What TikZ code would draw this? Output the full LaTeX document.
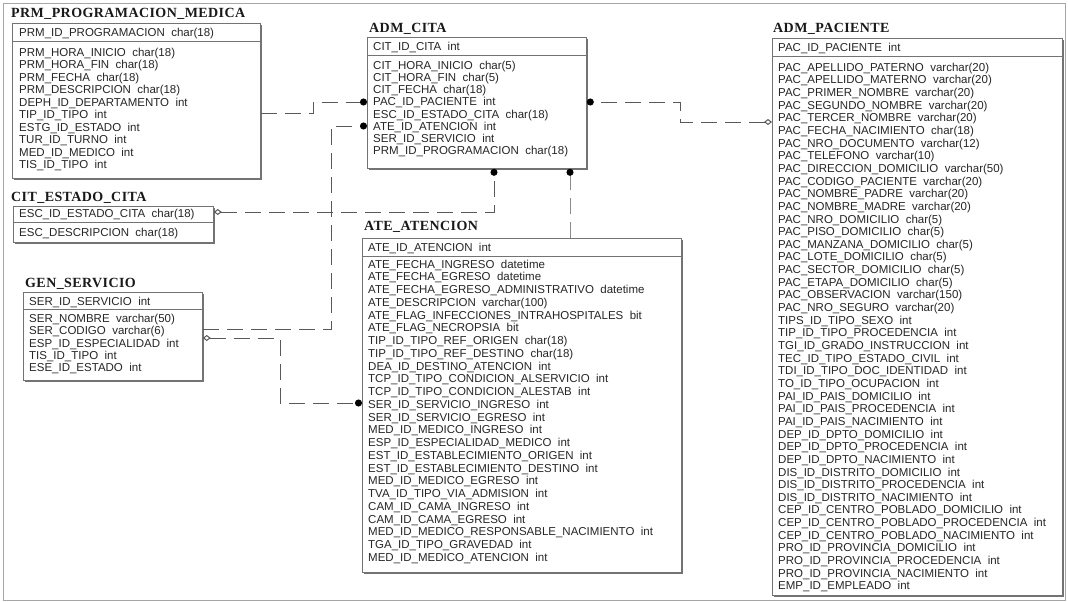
\documentclass[tikz,border=0pt]{standalone}
\usepackage{fontspec}
\setmainfont{Liberation Sans}
\newfontfamily\titlefont[LetterSpace=3]{Liberation Serif}
\usetikzlibrary{arrows.meta,shadows}

\begin{document}
\begin{tikzpicture}[x=1pt, y=-1pt,
    tabletitle/.style={anchor=west, inner sep=0pt, text=black!90, font=\titlefont\bfseries\fontsize{14}{16}\selectfont},
    tablebox/.style={draw=black!55, line width=0.8pt, fill=white, anchor=north west, inner sep=0pt,
        drop shadow={shadow xshift=2pt, shadow yshift=-2pt, fill=black!55, opacity=1}},
    keyrow/.style={anchor=north west, inner sep=0pt, text=black!85, font=\fontsize{11.5}{12}\selectfont},
    attrs/.style={anchor=north west, inner sep=0pt, align=left, text=black!85},
    sepline/.style={draw=black!55, line width=0.7pt},
    rel/.style={draw=black!65, line width=1pt, dash pattern=on 16pt off 8pt},
    todot/.style={-{Circle[length=7pt, color=black]}},
    diadot/.style={{Diamond[open,length=8pt,width=6pt]}-{Circle[length=7pt, color=black]}}]
    \useasboundingbox (0,0) rectangle (1068,602);
    \draw[black!35, line width=0.8pt] (3,3) rectangle (1065,600);

    % PRM_PROGRAMACION_MEDICA
    \node[tabletitle] (prmtitle) at (11,14) {PRM\_PROGRAMACION\_MEDICA};
    \node[tablebox, minimum width=248pt, minimum height=155pt] (prm) at (12,23) {};
    \node[keyrow] (prmkey) at (19,27.7) {PRM\_ID\_PROGRAMACION~~char(18)};
    \draw[sepline] (12,41) -- (260,41);
    \node[attrs, font=\fontsize{11.5}{12.5}\selectfont] (prmattr) at (19,47.7) {PRM\_HORA\_INICIO~~char(18)\\
        PRM\_HORA\_FIN~~char(18)\\
        PRM\_FECHA~~char(18)\\
        PRM\_DESCRIPCION~~char(18)\\
        DEPH\_ID\_DEPARTAMENTO~~int\\
        TIP\_ID\_TIPO~~int\\
        ESTG\_ID\_ESTADO~~int\\
        TUR\_ID\_TURNO~~int\\
        MED\_ID\_MEDICO~~int\\
        TIS\_ID\_TIPO~~int};

    % CIT_ESTADO_CITA
    \node[tabletitle] (cittitle) at (11,198) {CIT\_ESTADO\_CITA};
    \node[tablebox, minimum width=200pt, minimum height=36pt] (cit) at (13,206) {};
    \node[keyrow] (citkey) at (19,208.7) {ESC\_ID\_ESTADO\_CITA~~char(18)};
    \draw[sepline] (13,222) -- (213,222);
    \node[keyrow] (citattr) at (19,227.7) {ESC\_DESCRIPCION~~char(18)};

    % GEN_SERVICIO
    \node[tabletitle] (gentitle) at (25,284) {GEN\_SERVICIO};
    \node[tablebox, minimum width=179pt, minimum height=88pt] (gen) at (23,292) {};
    \node[keyrow] (genkey) at (29,296.7) {SER\_ID\_SERVICIO~~int};
    \draw[sepline] (23,309) -- (202,309);
    \node[attrs, font=\fontsize{11.5}{12.4}\selectfont] (genattr) at (29,313.7) {SER\_NOMBRE~~varchar(50)\\
        SER\_CODIGO~~varchar(6)\\
        ESP\_ID\_ESPECIALIDAD~~int\\
        TIS\_ID\_TIPO~~int\\
        ESE\_ID\_ESTADO~~int};

    % ADM_CITA
    \node[tabletitle] (citatitle) at (369,29) {ADM\_CITA};
    \node[tablebox, minimum width=219pt, minimum height=131pt] (cita) at (367,37) {};
    \node[keyrow] (citakey) at (373,41.7) {CIT\_ID\_CITA~~int};
    \draw[sepline] (367,55) -- (586,55);
    \node[attrs, font=\fontsize{11.5}{12.2}\selectfont] (citaattr) at (373,60.7) {CIT\_HORA\_INICIO~~char(5)\\
        CIT\_HORA\_FIN~~char(5)\\
        CIT\_FECHA~~char(18)\\
        PAC\_ID\_PACIENTE~~int\\
        ESC\_ID\_ESTADO\_CITA~~char(18)\\
        ATE\_ID\_ATENCION~~int\\
        SER\_ID\_SERVICIO~~int\\
        PRM\_ID\_PROGRAMACION~~char(18)};

    % ATE_ATENCION
    \node[tabletitle] (atetitle) at (364,227) {ATE\_ATENCION};
    \node[tablebox, minimum width=319pt, minimum height=334pt] (ate) at (362,238) {};
    \node[keyrow] (atekey) at (368,242.7) {ATE\_ID\_ATENCION~~int};
    \draw[sepline] (362,256) -- (681,256);
    \node[attrs, font=\fontsize{11.5}{12.75}\selectfont] (ateattr) at (368,259.7) {ATE\_FECHA\_INGRESO~~datetime\\
        ATE\_FECHA\_EGRESO~~datetime\\
        ATE\_FECHA\_EGRESO\_ADMINISTRATIVO~~datetime\\
        ATE\_DESCRIPCION~~varchar(100)\\
        ATE\_FLAG\_INFECCIONES\_INTRAHOSPITALES~~bit\\
        ATE\_FLAG\_NECROPSIA~~bit\\
        TIP\_ID\_TIPO\_REF\_ORIGEN~~char(18)\\
        TIP\_ID\_TIPO\_REF\_DESTINO~~char(18)\\
        DEA\_ID\_DESTINO\_ATENCION~~int\\
        TCP\_ID\_TIPO\_CONDICION\_ALSERVICIO~~int\\
        TCP\_ID\_TIPO\_CONDICION\_ALESTAB~~int\\
        SER\_ID\_SERVICIO\_INGRESO~~int\\
        SER\_ID\_SERVICIO\_EGRESO~~int\\
        MED\_ID\_MEDICO\_INGRESO~~int\\
        ESP\_ID\_ESPECIALIDAD\_MEDICO~~int\\
        EST\_ID\_ESTABLECIMIENTO\_ORIGEN~~int\\
        EST\_ID\_ESTABLECIMIENTO\_DESTINO~~int\\
        MED\_ID\_MEDICO\_EGRESO~~int\\
        TVA\_ID\_TIPO\_VIA\_ADMISION~~int\\
        CAM\_ID\_CAMA\_INGRESO~~int\\
        CAM\_ID\_CAMA\_EGRESO~~int\\
        MED\_ID\_MEDICO\_RESPONSABLE\_NACIMIENTO~~int\\
        TGA\_ID\_TIPO\_GRAVEDAD~~int\\
        MED\_ID\_MEDICO\_ATENCION~~int};

    % ADM_PACIENTE
    \node[tabletitle] (pactitle) at (773,29) {ADM\_PACIENTE};
    \node[tablebox, minimum width=290pt, minimum height=557pt] (pac) at (772,38) {};
    \node[keyrow] (packey) at (778,42.7) {PAC\_ID\_PACIENTE~~int};
    \draw[sepline] (772,56) -- (1062,56);
    \node[attrs, font=\fontsize{11.5}{12.65}\selectfont] (pacattr) at (778,62.7) {PAC\_APELLIDO\_PATERNO~~varchar(20)\\
        PAC\_APELLIDO\_MATERNO~~varchar(20)\\
        PAC\_PRIMER\_NOMBRE~~varchar(20)\\
        PAC\_SEGUNDO\_NOMBRE~~varchar(20)\\
        PAC\_TERCER\_NOMBRE~~varchar(20)\\
        PAC\_FECHA\_NACIMIENTO~~char(18)\\
        PAC\_NRO\_DOCUMENTO~~varchar(12)\\
        PAC\_TELEFONO~~varchar(10)\\
        PAC\_DIRECCION\_DOMICILIO~~varchar(50)\\
        PAC\_CODIGO\_PACIENTE~~varchar(20)\\
        PAC\_NOMBRE\_PADRE~~varchar(20)\\
        PAC\_NOMBRE\_MADRE~~varchar(20)\\
        PAC\_NRO\_DOMICILIO~~char(5)\\
        PAC\_PISO\_DOMICILIO~~char(5)\\
        PAC\_MANZANA\_DOMICILIO~~char(5)\\
        PAC\_LOTE\_DOMICILIO~~char(5)\\
        PAC\_SECTOR\_DOMICILIO~~char(5)\\
        PAC\_ETAPA\_DOMICILIO~~char(5)\\
        PAC\_OBSERVACION~~varchar(150)\\
        PAC\_NRO\_SEGURO~~varchar(20)\\
        TIPS\_ID\_TIPO\_SEXO~~int\\
        TIP\_ID\_TIPO\_PROCEDENCIA~~int\\
        TGI\_ID\_GRADO\_INSTRUCCION~~int\\
        TEC\_ID\_TIPO\_ESTADO\_CIVIL~~int\\
        TDI\_ID\_TIPO\_DOC\_IDENTIDAD~~int\\
        TO\_ID\_TIPO\_OCUPACION~~int\\
        PAI\_ID\_PAIS\_DOMICILIO~~int\\
        PAI\_ID\_PAIS\_PROCEDENCIA~~int\\
        PAI\_ID\_PAIS\_NACIMIENTO~~int\\
        DEP\_ID\_DPTO\_DOMICILIO~~int\\
        DEP\_ID\_DPTO\_PROCEDENCIA~~int\\
        DEP\_ID\_DPTO\_NACIMIENTO~~int\\
        DIS\_ID\_DISTRITO\_DOMICILIO~~int\\
        DIS\_ID\_DISTRITO\_PROCEDENCIA~~int\\
        DIS\_ID\_DISTRITO\_NACIMIENTO~~int\\
        CEP\_ID\_CENTRO\_POBLADO\_DOMICILIO~~int\\
        CEP\_ID\_CENTRO\_POBLADO\_PROCEDENCIA~~int\\
        CEP\_ID\_CENTRO\_POBLADO\_NACIMIENTO~~int\\
        PRO\_ID\_PROVINCIA\_DOMICILIO~~int\\
        PRO\_ID\_PROVINCIA\_PROCEDENCIA~~int\\
        PRO\_ID\_PROVINCIA\_NACIMIENTO~~int\\
        EMP\_ID\_EMPLEADO~~int};

    % Draw relationships
    \draw[rel, todot] (prm.east |- 0,113) -- (313,113) |- (cita.west |- 0,102);
    \draw[rel, todot] (gen.east |- 0,329) -- (331,329) |- (cita.west |- 0,126);
    \draw[rel, diadot] (gen.east |- 0,338) -- (280,338) |- (ate.west |- 0,403);
    \draw[rel, diadot] (cit.east |- 0,212) -| (cita.south -| 494,0);
    \draw[rel, todot, draw=black!45] (ate.north -| 570,0) -- (cita.south -| 570,0);
    \draw[rel, diadot] (pac.west |- 0,122) -- (680,122) |- (cita.east |- 0,102);
\end{tikzpicture}
\end{document}
